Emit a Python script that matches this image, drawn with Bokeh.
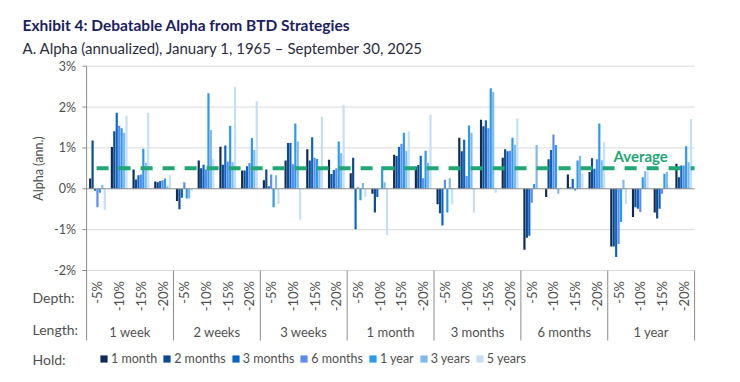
import math
from bokeh.plotting import figure
from bokeh.models import Range1d, Legend, LegendItem
from bokeh.embed import file_html
from bokeh.resources import INLINE
from bokeh.core.properties import value

# ---------------- data ----------------
lengths = ["1 week", "2 weeks", "3 weeks", "1 month", "3 months", "6 months", "1 year"]
depths = ["-5%", "-10%", "-15%", "-20%"]
holds = ["1 month", "2 months", "3 months", "6 months", "1 year", "3 years", "5 years"]

# annualized alpha (%), rows = depth (-5%,-10%,-15%,-20%), cols = hold period
alpha_1_week = [
    [0.25, 1.18, -0.05, -0.45, -0.10, 0.10, -0.52],
    [1.02, 1.41, 1.86, 1.54, 1.48, 1.37, 1.79],
    [0.47, 0.23, 0.33, 0.35, 0.98, 0.63, 1.86],
    [0.18, 0.16, 0.19, 0.21, 0.25, 0.06, 0.33],
]
alpha_2_weeks = [
    [-0.30, -0.50, -0.22, 0.16, -0.24, -0.24, -0.05],
    [0.69, 0.50, 0.59, 0.47, 2.34, 1.44, 0.72],
    [1.03, 0.59, 1.06, 0.67, 1.54, 0.65, 2.50],
    [0.45, 0.45, 0.55, 0.63, 1.24, 0.95, 2.14],
]
alpha_3_weeks = [
    [0.21, 0.47, 0.06, 0.35, -0.45, 0.33, -0.37],
    [0.69, 1.12, 1.12, 0.60, 1.60, 1.16, -0.76],
    [0.97, 0.69, 1.26, 0.76, 0.73, 0.47, 1.76],
    [0.71, 0.36, 0.46, 0.50, 1.16, 0.87, 2.05],
]
alpha_1_month = [
    [0.38, 0.76, -0.99, 0.04, -0.28, 0.14, -0.20],
    [-0.12, -0.58, -0.20, 0.02, 0.55, 0.16, -1.14],
    [0.83, 0.80, 1.02, 1.10, 1.37, 0.93, 1.40],
    [0.54, 0.58, 0.81, 0.26, 0.93, 0.63, 1.81],
]
alpha_3_months = [
    [-0.38, -0.60, -0.90, 0.22, -0.58, 0.26, -0.38],
    [1.25, 0.92, 1.20, 0.31, 1.55, 1.37, -0.58],
    [1.69, 1.53, 1.68, 1.48, 2.46, 2.37, -0.10],
    [0.76, 0.97, 0.92, 0.93, 1.25, 1.08, 1.72],
]
alpha_6_months = [
    [-1.49, -1.20, -1.15, -0.34, 0.12, 1.07, 0.02],
    [-0.20, 0.72, 0.95, 1.33, 1.07, -0.12, 0.03],
    [0.35, 0.04, 0.24, -0.04, 0.69, 0.81, 0.37],
    [0.41, 0.75, 0.49, 0.72, 1.60, 0.70, 1.14],
]
alpha_1_year = [
    [-1.41, -1.41, -1.67, -1.35, -0.81, 0.22, -0.37],
    [-0.69, -0.45, -0.49, -0.57, 0.28, 0.43, 0.43],
    [-0.58, -0.73, -0.49, -0.12, 0.37, 0.41, 0.05],
    [0.61, 0.28, 0.57, 0.57, 1.04, 0.65, 1.71],
]
average_alpha = 0.50
y_ticks = [-2, -1, 0, 1, 2, 3]
y_tick_labels = ["-2%", "-1%", "0%", "1%", "2%", "3%"]

alpha_by_length = [alpha_1_week, alpha_2_weeks, alpha_3_weeks, alpha_1_month,
                   alpha_3_months, alpha_6_months, alpha_1_year]

# ---------------- style / layout ----------------
FONT = "Lato"
hold_colors = ["#0e2a56", "#0b4a8c", "#0a64c8", "#5b8cf0", "#2a9af0", "#7fb9ee", "#c4dff7"]
GRID = "#d9d9d9"
AXIS = "#8c8c8c"
TEXT = "#505050"
GREEN = "#1fa774"

W, H = 740, 382
X0_PX, X_UNIT = 86.1, 21.714      # pixel of category origin, pixels per cluster
Y0_PX, Y_UNIT = 65.7, 40.86       # pixel of the 3% line, pixels per 1%


def fx(px):
    return (px - X0_PX) / X_UNIT


def fy(py):
    return 3 - (py - Y0_PX) / Y_UNIT


n_groups = len(lengths)
n_depth = len(depths)
n_clusters = n_groups * n_depth
pitch = 0.112
bar_w = 0.10

p = figure(width=W, height=H,
           x_range=Range1d(fx(0), fx(W)), y_range=Range1d(fy(H), fy(0)),
           output_backend="svg", toolbar_location=None,
           min_border_left=0, min_border_right=0,
           min_border_top=0, min_border_bottom=0)
p.background_fill_color = "white"
p.border_fill_color = "white"
p.outline_line_color = None
p.grid.visible = False
p.axis.visible = False

# gridlines (plot area only)
grid_y = [t for t in y_ticks if t != 0]
p.segment(x0=[0] * len(grid_y), y0=grid_y, x1=[n_clusters] * len(grid_y), y1=grid_y,
          line_color=GRID, line_width=1)

# bars
renderers = []
for k, h in enumerate(holds):
    xs, tops = [], []
    for g, tbl in enumerate(alpha_by_length):
        for d in range(n_depth):
            xs.append(g * n_depth + d + 0.5 + (k - 3) * pitch)
            tops.append(tbl[d][k])
    r = p.vbar(x=xs, top=tops, bottom=0, width=bar_w, fill_color=hold_colors[k],
               line_color=None)
    renderers.append(r)

# zero line
p.segment(x0=[0], y0=[0], x1=[n_clusters], y1=[0], line_color=AXIS, line_width=1)

# y axis: line, ticks, labels
sep_bottom = fy(340)
p.segment(x0=[0], y0=[max(y_ticks)], x1=[0], y1=[sep_bottom], line_color=AXIS, line_width=1)
p.segment(x0=[fx(82)] * len(y_ticks), y0=y_ticks, x1=[0] * len(y_ticks), y1=y_ticks,
          line_color=AXIS, line_width=1)
p.text(x=[fx(75.5)] * len(y_ticks), y=y_ticks, text=y_tick_labels,
       text_font=value(FONT), text_font_size="12.5px", text_color=TEXT,
       text_align="right", text_baseline="middle")
p.text(x=[fx(38)], y=[fy(168)], text=["Alpha (ann.)"], angle=math.pi / 2,
       text_font=value(FONT), text_font_size="12.5px", text_color=TEXT,
       text_align="center", text_baseline="middle")

# group separators
sep_x = [g * n_depth for g in range(1, n_groups + 1)]
p.segment(x0=sep_x, y0=[min(y_ticks)] * len(sep_x), x1=sep_x, y1=[sep_bottom] * len(sep_x),
          line_color=AXIS, line_width=1)

# average line
p.line(x=[0, n_clusters], y=[average_alpha, average_alpha], line_color=GREEN,
       line_width=4, line_dash="12 10", line_dash_offset=12, line_cap="butt")
p.text(x=[fx(613)], y=[fy(155)], text=["Average"], text_font=value(FONT),
       text_font_size="15px", text_font_style="bold", text_color=GREEN,
       text_align="left", text_baseline="middle")

# depth labels
cx = [c + 0.5 for c in range(n_clusters)]
p.text(x=cx, y=[fy(280.5)] * n_clusters, text=depths * n_groups, angle=math.pi / 2,
       text_font=value(FONT), text_font_size="13px", text_color=TEXT,
       text_align="right", text_baseline="middle")
# length labels
gx = [g * n_depth + n_depth / 2 for g in range(n_groups)]
p.text(x=gx, y=[fy(331)] * n_groups, text=lengths, text_font=value(FONT),
       text_font_size="13px", text_color=TEXT, text_align="center",
       text_baseline="middle")

# row titles
p.text(x=[fx(32)] * 3, y=[fy(297), fy(329), fy(359)], text=["Depth:", "Length:", "Hold:"],
       text_font=value(FONT), text_font_size="14px", text_color=TEXT,
       text_align="left", text_baseline="middle")

# chart titles
p.text(x=[fx(22)], y=[fy(24)], text=["Exhibit 4: Debatable Alpha from BTD Strategies"],
       text_font=value(FONT), text_font_size="15.5px", text_font_style="bold",
       text_color="#1b2160", text_align="left", text_baseline="middle")
p.text(x=[fx(22)], y=[fy(47)],
       text=["A. Alpha (annualized), January 1, 1965 \u2013 September 30, 2025"],
       text_font=value(FONT), text_font_size="15px", text_color="#2b2d42",
       text_align="left", text_baseline="middle")

# legend
legend = Legend(items=[LegendItem(label=h, renderers=[r]) for h, r in zip(holds, renderers)],
                orientation="horizontal", location=(99, 16),
                glyph_width=9, glyph_height=9, label_standoff=3, spacing=5,
                padding=0, margin=0, label_height=14,
                border_line_color=None, background_fill_alpha=0,
                label_text_font=FONT, label_text_font_size="12.5px",
                label_text_color=TEXT)
p.add_layout(legend)

open("out.html", "w").write(file_html(p, INLINE))
